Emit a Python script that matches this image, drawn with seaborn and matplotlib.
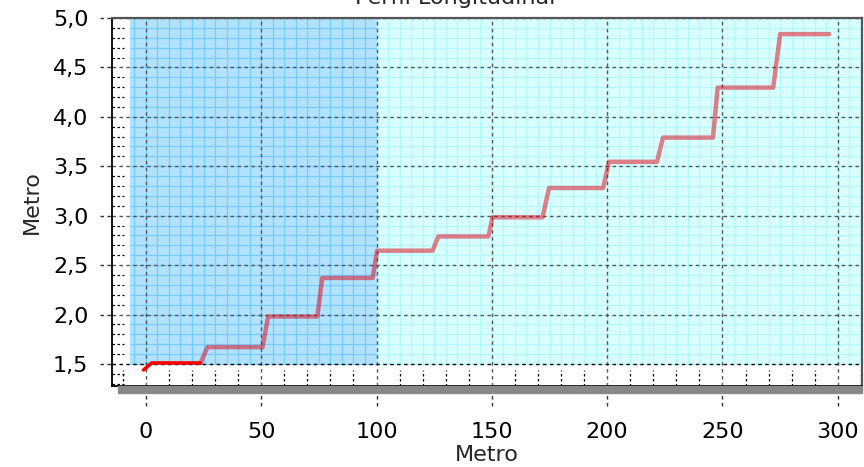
import numpy as np
import pandas as pd
import matplotlib
matplotlib.use("Agg")
import matplotlib.pyplot as plt
import matplotlib.transforms as mtransforms
from matplotlib.patches import Rectangle
import seaborn as sns

# Longitudinal profile (distance in metres, elevation in metres)
dist = [-1.0, 2.5, 23.7, 26.7, 50.6, 53.0, 74.3, 76.5, 98.3, 100.3, 124.3, 126.8,
        148.5, 150.3, 172.0, 174.8, 198.2, 200.8, 221.6, 224.2, 245.9, 247.9,
        272.0, 275.0, 296.3]
elev = [1.44, 1.51, 1.51, 1.67, 1.67, 1.98, 1.98, 2.37, 2.37, 2.646, 2.646, 2.79,
        2.79, 2.984, 2.984, 3.28, 3.28, 3.545, 3.545, 3.79, 3.79, 4.296,
        4.296, 4.837, 4.837]
first_stretch = 3  # number of points drawn in solid red at the start

x_ticks = [0, 50, 100, 150, 200, 250, 300]
y_ticks = [1.5, 2.0, 2.5, 3.0, 3.5, 4.0, 4.5, 5.0]
y_tick_labels = ["1,5", "2,0", "2,5", "3,0", "3,5", "4,0", "4,5", "5,0"]

# Shaded zones
zone_a = (-7.0, 100.0)
zone_b = (100.0, 312.0)
band_bottom, band_top = 1.5, 5.0

sns.set_theme(style="white")
plt.rcParams["font.family"] = ["DejaVu Sans"]

fig = plt.figure(figsize=(8.64, 4.67), dpi=100)
ax = fig.add_axes([112 / 864, 1 - 386 / 467, 750 / 864, 368 / 467])
xlim = (-14.7, 310.5)
ylim = (1.277, 5.0)
ax.set_xlim(*xlim)
ax.set_ylim(*ylim)

# Zone backgrounds
ax.fill_between(zone_a, band_bottom, band_top, color="#b2e2ff", lw=0, zorder=0)
ax.fill_between(zone_b, band_bottom, band_top, color="#d9ffff", lw=0, zorder=0)

# Fine grid inside each zone
yy = np.round(np.arange(band_bottom, band_top + 0.001, 0.1), 2)
for (x0, x1), col in ((zone_a, "#74ccff"), (zone_b, "#b2f8ff")):
    xs = np.arange(np.ceil(x0 / 5) * 5, x1 + 0.01, 5)
    ax.vlines(xs, band_bottom, band_top, colors=col, lw=0.9, zorder=0.5)
    ax.hlines(yy, x0, min(x1, xlim[1]), colors=col, lw=0.9, zorder=0.5)

# Major grid
ax.vlines(x_ticks, ylim[0], ylim[1], colors="#555555", lw=1.0,
          linestyles=(0, (2.5, 2.5)), zorder=1)
ax.hlines(y_ticks[1:], xlim[0], xlim[1], colors="#555555", lw=1.0,
          linestyles=(0, (2.5, 2.5)), zorder=1)
ax.hlines([y_ticks[0]], xlim[0], xlim[1], colors="black", lw=1.0,
          linestyles=(0, (2.5, 2.5)), zorder=1)

# Minor tick marks drawn as short dashes
minor_y = [v for v in yy if not np.isclose(v % 0.5, 0) and not np.isclose(v % 0.5, 0.5)]
minor_y = list(minor_y) + [1.3, 1.4]
ax.hlines(minor_y, xlim[0], -9.5, colors="black", lw=0.9,
          linestyles=(0, (2, 2)), zorder=1)
minor_x = [v for v in range(-10, 311, 10) if v % 50 != 0]
ax.vlines(minor_x, ylim[0], 1.44, colors="black", lw=0.9,
          linestyles=(0, (2, 2)), zorder=1)

# Major ticks extending outside the axes
tx = mtransforms.blended_transform_factory(ax.transData, ax.transAxes)
ax.vlines(x_ticks, -0.055, 0, transform=tx, colors="#333333", lw=1.0,
          linestyles=(0, (2.5, 2.5)), clip_on=False)
ty = mtransforms.blended_transform_factory(ax.transAxes, ax.transData)
ax.hlines(y_ticks, -0.016, 0, transform=ty, colors="#333333", lw=1.0,
          linestyles=(0, (2.5, 2.5)), clip_on=False)

# Profile line
df = pd.DataFrame({"dist": dist, "elev": elev})
sns.lineplot(data=df.iloc[first_stretch - 1:], x="dist", y="elev", sort=False,
             estimator=None, color="#e00010", alpha=0.5, lw=3.2, ax=ax, zorder=3)
sns.lineplot(data=df.iloc[:first_stretch], x="dist", y="elev", sort=False,
             estimator=None, color="#ff0000", lw=2.6, ax=ax, zorder=4)

ax.set_xticks(x_ticks)
ax.set_xticklabels([str(v) for v in x_ticks])
ax.set_yticks(y_ticks)
ax.set_yticklabels(y_tick_labels)
ax.tick_params(axis="both", length=0, labelsize=16, colors="black")
ax.tick_params(axis="x", pad=26)
ax.tick_params(axis="y", pad=17)
ax.set_xlabel("Metro", fontsize=16, labelpad=2)
ax.set_ylabel("Metro", fontsize=16, labelpad=8)
ax.grid(False)

for side in ("left", "bottom"):
    ax.spines[side].set_color("black")
    ax.spines[side].set_linewidth(1.3)
for side in ("top", "right"):
    ax.spines[side].set_color("#555555")
    ax.spines[side].set_linewidth(1.6)

# Shadow bar under the plot frame
fig.patches.append(Rectangle((118 / 864, 1 - 393 / 467), 744 / 864, 7 / 467,
                             transform=fig.transFigure, color="#888888",
                             zorder=0))

fig.text(455 / 864, 0.992, "Perfil Longitudinal", ha="center", va="baseline",
         fontsize=16)

fig.savefig("out.png", dpi=100)
